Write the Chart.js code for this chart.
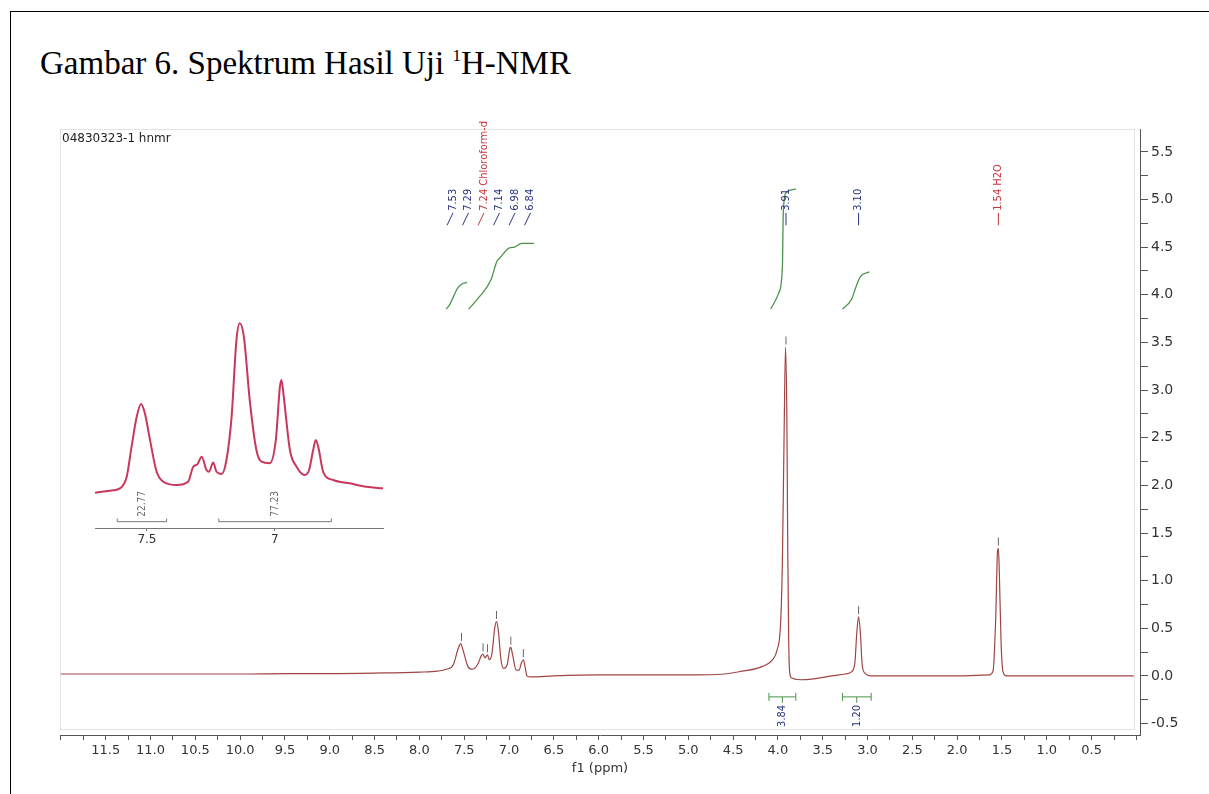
<!DOCTYPE html>
<html>
<head>
<meta charset="utf-8">
<script src="https://cdn.jsdelivr.net/npm/chart.js@4.4.1/dist/chart.umd.min.js"></script>
<style>
  body { margin:0; background:#fff; width:1209px; height:794px; overflow:hidden; position:relative; }
  #page { position:absolute; left:10px; top:11px; width:1199px; height:800px; border:1.5px solid #000; border-bottom:none; border-right:none; box-sizing:border-box; }
  #title { position:absolute; left:40px; top:45px; font-family:'Liberation Serif','Times New Roman',serif; font-size:33px; color:#000; white-space:nowrap; }
  #title sup { font-size:17px; line-height:0; vertical-align:13px; }
  #fileLabel { position:absolute; left:62px; top:131px; font-family:'DejaVu Sans',Verdana,sans-serif; font-size:12px; color:#222; }
  #mainChart { position:absolute; left:0; top:0; }
  #insetChart { position:absolute; left:80px; top:295px; }
</style>
</head>
<body>
<div id="page"></div>
<div id="title">Gambar 6. Spektrum Hasil Uji <sup>1</sup>H-NMR</div>
<canvas id="mainChart" width="1209" height="794"></canvas>
<div id="fileLabel">04830323-1 hnmr</div>
<canvas id="insetChart" width="320" height="265"></canvas>
<script>
// Main spectrum (ppm, intensity)
const spectrumPpm = [12.0, 11.0, 10.0, 9.5, 9.0, 8.5, 8.0, 7.8, 7.7, 7.62, 7.57, 7.54, 7.51, 7.46, 7.41, 7.35, 7.31, 7.29, 7.27, 7.24, 7.22, 7.19, 7.16, 7.14, 7.12, 7.09, 7.06, 7.02, 6.99, 6.98, 6.96, 6.92, 6.89, 6.86, 6.84, 6.82, 6.80, 6.75, 6.5, 6.0, 5.5, 5.0, 4.6, 4.4, 4.2, 4.06, 4.01, 3.97, 3.95, 3.93, 3.915, 3.90, 3.89, 3.88, 3.87, 3.85, 3.75, 3.6, 3.4, 3.25, 3.17, 3.14, 3.12, 3.10, 3.08, 3.06, 3.03, 2.95, 2.5, 2.0, 1.65, 1.60, 1.57, 1.55, 1.54, 1.53, 1.51, 1.49, 1.45, 1.0, 0.5, 0.03];
const spectrumInt = [0.02, 0.02, 0.02, 0.025, 0.025, 0.03, 0.04, 0.05, 0.07, 0.12, 0.28, 0.34, 0.26, 0.10, 0.07, 0.12, 0.21, 0.23, 0.19, 0.22, 0.17, 0.24, 0.50, 0.57, 0.48, 0.17, 0.08, 0.12, 0.29, 0.30, 0.22, 0.06, 0.06, 0.14, 0.17, 0.09, 0.00, -0.01, 0.0, 0.01, 0.01, 0.01, 0.02, 0.05, 0.09, 0.17, 0.27, 0.55, 1.2, 2.6, 3.45, 2.7, 1.3, 0.4, 0.05, -0.02, -0.04, -0.03, 0.0, 0.02, 0.05, 0.15, 0.45, 0.62, 0.45, 0.12, 0.03, 0.0, 0.0, 0.0, 0.01, 0.05, 0.6, 1.3, 1.34, 1.1, 0.35, 0.05, 0.0, 0.0, 0.0, 0.0];

// Peak picking
const peakPpm = [7.53, 7.29, 7.24, 7.14, 6.98, 6.84, 3.91, 3.10, 1.54];
const peakTop = [0.34, 0.23, 0.22, 0.57, 0.30, 0.17, 3.45, 0.62, 1.34];
const peakText = ['7.53', '7.29', '7.24 Chloroform-d', '7.14', '6.98', '6.84', '3.91', '3.10', '1.54 H2O'];
const peakSolvent = [false, false, true, false, false, false, false, false, true];

// Integral curves
const integral1Ppm = [7.70, 7.66, 7.62, 7.58, 7.53, 7.47];
const integral1Val = [3.85, 3.90, 3.98, 4.06, 4.11, 4.13];
const integral2Ppm = [7.45, 7.33, 7.20, 7.14, 7.09, 7.00, 6.94, 6.86, 6.72];
const integral2Val = [3.85, 3.98, 4.16, 4.34, 4.40, 4.49, 4.50, 4.54, 4.54];
const integral3Ppm = [4.08, 3.99, 3.95, 3.94, 3.91, 3.80];
const integral3Val = [3.85, 4.02, 4.29, 4.86, 5.07, 5.11];
const integral4Ppm = [3.28, 3.18, 3.13, 3.08, 2.98];
const integral4Val = [3.85, 3.95, 4.08, 4.19, 4.24];
const integralRanges = [[4.10, 3.80], [3.28, 2.96]];
const integralValues = ['3.84', '1.20'];

// Inset (7.7 - 6.6 ppm)
const insetPpm = [7.703, 7.645, 7.605, 7.579, 7.560, 7.540, 7.523, 7.508, 7.488, 7.462, 7.436, 7.384, 7.339, 7.319, 7.303, 7.286, 7.267, 7.257, 7.241, 7.228, 7.208, 7.189, 7.169, 7.150, 7.137, 7.121, 7.098, 7.072, 7.052, 7.020, 6.996, 6.980, 6.974, 6.965, 6.941, 6.915, 6.883, 6.866, 6.850, 6.840, 6.829, 6.811, 6.772, 6.707, 6.642, 6.577];
const insetInt = [16.2, 17.1, 18.2, 23.5, 37.3, 51, 56.9, 52.6, 40.4, 25.8, 21.2, 19.7, 21.2, 28.1, 29.2, 32.7, 26.6, 25.8, 30.1, 25.8, 24.8, 31.2, 51, 86.2, 93.9, 87.8, 58.7, 35.8, 30.4, 29.7, 40.4, 64.8, 67.9, 60.2, 35.8, 28.1, 24.3, 26.6, 35.8, 40.4, 36.6, 25.8, 22, 20.5, 18.9, 18.2];
const insetRanges = [[7.616, 7.423], [7.219, 6.779]];
const insetValues = ['22.77', '77.23'];
const insetTicks = [7.5, 7];

const navy = '#2b3580';
const red = '#c4363c';
const green = '#4a944a';
const labelFont = "11px 'DejaVu Sans Condensed', 'DejaVu Sans', sans-serif";

const pts = (xs, ys) => xs.map((x, i) => ({ x, y: ys[i] }));

// ticks every 0.25 inside the axis range
function quarterTicks(scale) {
  const out = [];
  for (let k = Math.ceil(scale.min * 4 - 1e-9); k <= Math.floor(scale.max * 4 + 1e-9); k++) out.push({ value: k / 4 });
  scale.ticks = out;
}
const isHalf = v => Math.abs(v * 2 - Math.round(v * 2)) < 1e-6;

const framePlugin = {
  id: 'frame',
  beforeDraw(chart) {
    const { ctx, chartArea: a } = chart;
    ctx.save();
    ctx.strokeStyle = '#e2e2e2';
    ctx.lineWidth = 1;
    ctx.strokeRect(a.left + 0.5, a.top + 0.5, a.right - a.left - 6, a.bottom - a.top - 6);
    ctx.restore();
  }
};

const labelPlugin = {
  id: 'peakLabels',
  afterDraw(chart) {
    const { ctx, scales: { x, y } } = chart;
    const px = peakPpm.map(p => x.getPixelForValue(p));
    // spread crowded aromatic labels
    const group = [0, 1, 2, 3, 4, 5];
    const center = group.reduce((s, i) => s + px[i], 0) / group.length;
    const lx = px.slice();
    const slant = px.map(() => 0);
    group.forEach((i, k) => { lx[i] = center - 2 + (k - (group.length - 1) / 2) * 15.5; slant[i] = 6; });
    const yLow = y.getPixelForValue(4.73), yHigh = y.getPixelForValue(4.86);
    ctx.save();
    ctx.font = labelFont;
    ctx.lineWidth = 1;
    peakText.forEach((t, i) => {
      const col = peakSolvent[i] ? red : navy;
      ctx.strokeStyle = col;
      ctx.beginPath();
      ctx.moveTo(lx[i] - slant[i], yLow);
      ctx.lineTo(lx[i], yHigh);
      ctx.stroke();
      ctx.save();
      ctx.translate(lx[i], yHigh - 2);
      ctx.rotate(-Math.PI / 2);
      ctx.fillStyle = col;
      ctx.textAlign = 'left';
      ctx.textBaseline = 'middle';
      ctx.fillText(t, 0, 0);
      ctx.restore();
    });
    // integral brackets under the baseline
    const yb = y.getPixelForValue(-0.22);
    integralRanges.forEach((r, i) => {
      const x1 = x.getPixelForValue(r[0]), x2 = x.getPixelForValue(r[1]);
      const xm = (x1 + x2) / 2;
      ctx.strokeStyle = green;
      ctx.beginPath();
      ctx.moveTo(x1, yb); ctx.lineTo(x2, yb);
      ctx.moveTo(x1, yb - 4); ctx.lineTo(x1, yb + 4);
      ctx.moveTo(x2, yb - 4); ctx.lineTo(x2, yb + 4);
      ctx.moveTo(xm, yb); ctx.lineTo(xm, yb + 6);
      ctx.stroke();
      ctx.save();
      ctx.translate(xm, yb + 8);
      ctx.rotate(-Math.PI / 2);
      ctx.fillStyle = navy;
      ctx.textAlign = 'right';
      ctx.textBaseline = 'middle';
      ctx.fillText(integralValues[i], 0, 0);
      ctx.restore();
    });
    ctx.restore();
  }
};

new Chart(document.getElementById('mainChart'), {
  type: 'line',
  data: {
    datasets: [
      { data: pts(spectrumPpm, spectrumInt), borderColor: '#a04444', borderWidth: 1.2, pointRadius: 0, cubicInterpolationMode: 'monotone' },
      { data: pts(integral1Ppm, integral1Val), borderColor: green, borderWidth: 1.3, pointRadius: 0, cubicInterpolationMode: 'monotone' },
      { data: pts(integral2Ppm, integral2Val), borderColor: green, borderWidth: 1.3, pointRadius: 0, cubicInterpolationMode: 'monotone' },
      { data: pts(integral3Ppm, integral3Val), borderColor: green, borderWidth: 1.3, pointRadius: 0, cubicInterpolationMode: 'monotone' },
      { data: pts(integral4Ppm, integral4Val), borderColor: green, borderWidth: 1.3, pointRadius: 0, cubicInterpolationMode: 'monotone' },
      { type: 'scatter', data: pts(peakPpm, peakTop.map(v => v + 0.07)), pointStyle: 'line', rotation: 90, pointRadius: 4, borderColor: '#666', borderWidth: 1 }
    ]
  },
  options: {
    responsive: false,
    animation: false,
    layout: { padding: { left: 60, top: 129, right: 0, bottom: 14 } },
    plugins: { legend: { display: false }, tooltip: { enabled: false } },
    scales: {
      x: {
        type: 'linear', reverse: true, min: -0.04, max: 12.01,
        afterBuildTicks: quarterTicks,
        afterFit: s => { s.height = 45; },
        grid: { drawOnChartArea: false, tickLength: 5, color: '#555' },
        border: { color: '#555' },
        ticks: {
          autoSkip: false, maxRotation: 0, padding: 3, color: '#333',
          font: { family: "'DejaVu Sans', Verdana, sans-serif", size: 13 },
          callback: v => (isHalf(v) && v > 0.3 && v < 11.7) ? v.toFixed(1) : ''
        },
        title: { display: true, text: 'f1 (ppm)', color: '#333', padding: { top: 0, bottom: 4 }, font: { family: "'DejaVu Sans', Verdana, sans-serif", size: 13 } }
      },
      y: {
        position: 'right', min: -0.62, max: 5.74,
        afterBuildTicks: quarterTicks,
        afterFit: s => { s.width = 69; },
        grid: { drawOnChartArea: false, tickLength: 8, color: '#555' },
        border: { color: '#555' },
        ticks: {
          autoSkip: false, padding: 3, color: '#333',
          font: { family: "'DejaVu Sans', Verdana, sans-serif", size: 14 },
          callback: v => isHalf(v) ? v.toFixed(1) : ''
        }
      }
    }
  },
  plugins: [framePlugin, labelPlugin]
});

const insetPlugin = {
  id: 'insetBrackets',
  afterDraw(chart) {
    const { ctx, scales: { x, y } } = chart;
    const yb = y.getPixelForValue(2.9);
    ctx.save();
    ctx.strokeStyle = '#777';
    ctx.lineWidth = 1;
    ctx.font = "10px 'DejaVu Sans Condensed', 'DejaVu Sans', sans-serif";
    insetRanges.forEach((r, i) => {
      const x1 = x.getPixelForValue(r[0]), x2 = x.getPixelForValue(r[1]);
      const xm = x.getPixelForValue((r[0] + r[1]) / 2);
      ctx.beginPath();
      ctx.moveTo(x1, yb); ctx.lineTo(x2, yb);
      ctx.moveTo(x1, yb); ctx.lineTo(x1, yb - 3);
      ctx.moveTo(x2, yb); ctx.lineTo(x2, yb - 3);
      ctx.stroke();
      ctx.save();
      ctx.translate(xm, yb - 5);
      ctx.rotate(-Math.PI / 2);
      ctx.fillStyle = '#666';
      ctx.textAlign = 'left';
      ctx.textBaseline = 'middle';
      ctx.fillText(insetValues[i], 0, 0);
      ctx.restore();
    });
    ctx.restore();
  }
};

new Chart(document.getElementById('insetChart'), {
  type: 'line',
  data: {
    datasets: [
      { data: pts(insetPpm, insetInt), borderColor: '#c8385c', borderWidth: 2, pointRadius: 0, cubicInterpolationMode: 'monotone' }
    ]
  },
  options: {
    responsive: false,
    animation: false,
    layout: { padding: { left: 15, top: 15, right: 17, bottom: 8 } },
    plugins: { legend: { display: false }, tooltip: { enabled: false } },
    scales: {
      x: {
        type: 'linear', reverse: true, min: 6.577, max: 7.703,
        afterBuildTicks: s => { s.ticks = insetTicks.map(v => ({ value: v })); },
        afterFit: s => { s.height = 24; },
        grid: { drawOnChartArea: false, tickLength: 3, color: '#777' },
        border: { color: '#777' },
        ticks: { padding: 2, color: '#333', font: { family: "'DejaVu Sans', Verdana, sans-serif", size: 12 }, callback: v => String(v) }
      },
      y: { display: false, min: 0, max: 100 }
    }
  },
  plugins: [insetPlugin]
});
</script>
</body>
</html>
